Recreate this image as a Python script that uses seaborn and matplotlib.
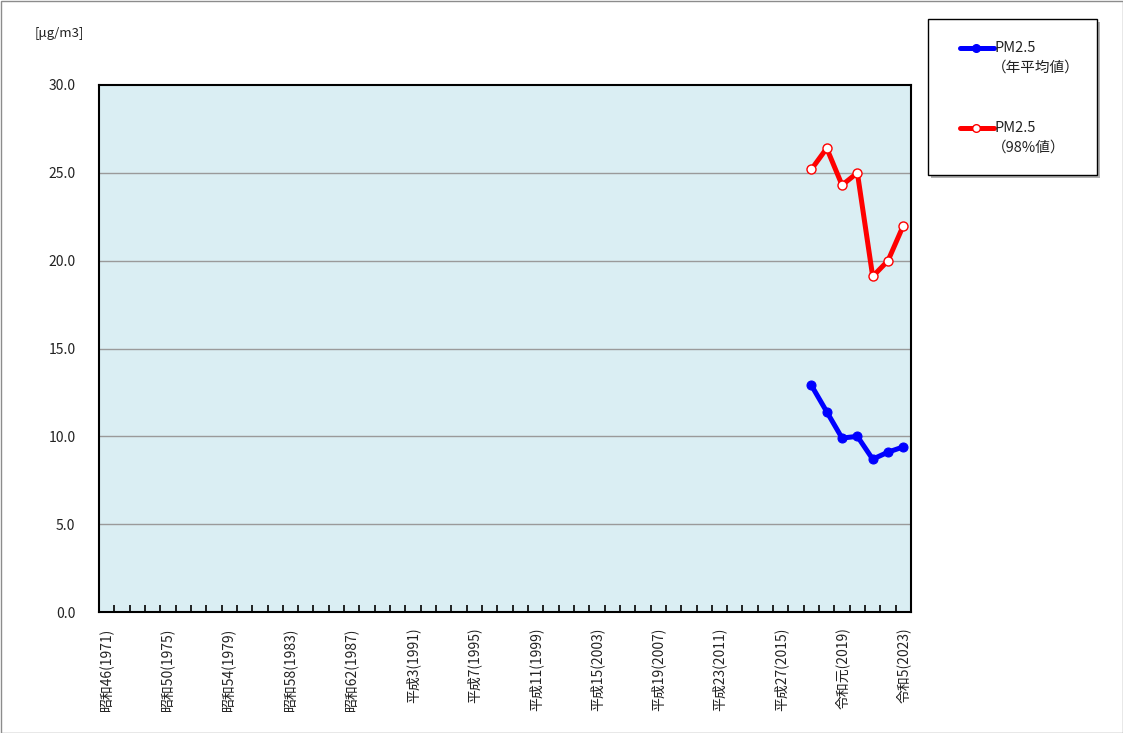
import numpy as np
import pandas as pd
import matplotlib
matplotlib.use("Agg")
import matplotlib.pyplot as plt
from matplotlib.lines import Line2D
from matplotlib.patches import Rectangle
import seaborn as sns

# ---------- DATA ----------
years = list(range(1971, 2024))
data_years = [2017, 2018, 2019, 2020, 2021, 2022, 2023]
pm25_mean = [12.9, 11.4, 9.9, 10.0, 8.7, 9.1, 9.4]
pm25_98 = [25.2, 26.4, 24.3, 25.0, 19.1, 20.0, 22.0]
label_years = [1971, 1975, 1979, 1983, 1987, 1991, 1995, 1999, 2003, 2007, 2011, 2015, 2019, 2023]
label_texts = ["昭和46(1971)", "昭和50(1975)", "昭和54(1979)", "昭和58(1983)", "昭和62(1987)",
               "平成3(1991)", "平成7(1995)", "平成11(1999)", "平成15(2003)", "平成19(2007)",
               "平成23(2011)", "平成27(2015)", "令和元(2019)", "令和5(2023)"]
y_ticks = [0, 5, 10, 15, 20, 25, 30]

# ---------- STYLE ----------
sns.set_style("white")
plt.rcParams['font.family'] = ['Noto Sans CJK JP', 'DejaVu Sans']

fig = plt.figure(figsize=(11.23, 7.33), dpi=100)
ax = fig.add_axes([99/1123, 1 - 612/733, (911-99)/1123, (612-85)/733])
ax.set_facecolor('#DAEEF3')

df = pd.DataFrame({
    'idx': [years.index(y) for y in data_years],
    'mean': pm25_mean,
    'p98': pm25_98,
})

for v in y_ticks[1:-1]:
    ax.axhline(v, color='#9a9a9a', lw=1.0, zorder=1)

sns.lineplot(data=df, x='idx', y='p98', ax=ax, color='#FF0000', lw=3.6,
             marker='o', markersize=6.5, markerfacecolor='white',
             markeredgecolor='#FF0000', markeredgewidth=1.0, zorder=3)
sns.lineplot(data=df, x='idx', y='mean', ax=ax, color='#0000FF', lw=3.6,
             marker='o', markersize=6.5, markerfacecolor='#0000FF',
             markeredgecolor='#0000FF', zorder=3)

ax.set_xlim(-0.5, len(years) - 0.5)
ax.set_ylim(0, 30)
ax.set_xlabel('')
ax.set_ylabel('')

# x ticks: minor tick marks at category boundaries, labels at centers
ax.set_xticks([years.index(y) for y in label_years])
ax.set_xticklabels(label_texts, rotation=90, fontsize=10, color='#222222')
ax.set_xticks(np.arange(0.5, len(years) - 1, 1.0), minor=True)
ax.tick_params(axis='x', which='major', length=0, pad=11)
ax.tick_params(axis='x', which='minor', direction='in', length=5, width=1.2,
               color='black', bottom=True)

ax.set_yticks(y_ticks)
ax.set_yticklabels([f"{v:.1f}" for v in y_ticks], fontsize=10, color='#222222')
ax.tick_params(axis='y', length=0, pad=17)

for s in ax.spines.values():
    s.set_color('black')
    s.set_linewidth(1.5)

fig.text(35/1123, 1 - 33/733, "[μg/m3]", fontsize=9.5, va='center', ha='left', color='#222222')

# legend box (drawn manually with shadow)
lx0, ly0, lw_, lh = 928/1123, 1 - 175/733, (1097-928)/1123, (175-19)/733
fig.patches.append(Rectangle((lx0 + 3/1123, ly0 - 3/733), lw_, lh, transform=fig.transFigure,
                             facecolor='#b0b0b0', edgecolor='none', zorder=0))
fig.patches.append(Rectangle((lx0, ly0), lw_, lh, transform=fig.transFigure,
                             facecolor='white', edgecolor='black', lw=1.0, zorder=1))

def legend_entry(y_px, color, face, line2):
    yy = 1 - y_px / 733
    fig.lines.append(Line2D([960/1123, 994/1123], [yy, yy], transform=fig.transFigure,
                            color=color, lw=3.6, zorder=2))
    fig.lines.append(Line2D([976/1123], [yy], transform=fig.transFigure, marker='o',
                            markersize=5.5, markerfacecolor=face, markeredgecolor=color,
                            color=color, zorder=3))
    fig.text(995/1123, yy, "PM2.5", fontsize=10.5, va='center', ha='left', color='#222222')
    fig.text(992/1123, yy - 20/733, line2, fontsize=10.5, va='center', ha='left', color='#222222')

legend_entry(48, '#0000FF', '#0000FF', "（年平均値）")
legend_entry(128, '#FF0000', 'white', "（98%値）")

# outer border
fig.patches.append(Rectangle((0.5/1123, 0.5/733), 1 - 1/1123, 1 - 1/733, transform=fig.transFigure,
                             facecolor='none', edgecolor='#8c8c8c', lw=1.0))

fig.savefig('out.png', dpi=100)
